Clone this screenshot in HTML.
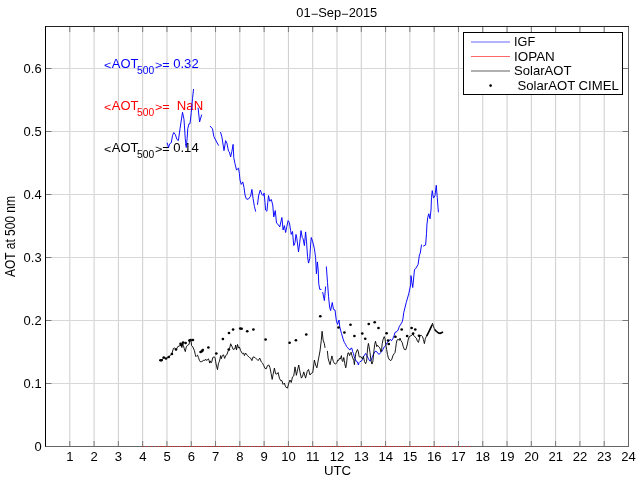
<!DOCTYPE html>
<html><head><meta charset="utf-8"><title>01-Sep-2015 AOT at 500 nm</title>
<style>html,body{margin:0;padding:0;background:#fff;overflow:hidden}svg{display:block;will-change:transform}text{font-family:"Liberation Sans",sans-serif;font-size:12px;fill:#000}</style>
</head><body>
<svg width="640" height="480" viewBox="0 0 640 480">
<rect x="0" y="0" width="640" height="480" fill="#fff"/>
<g stroke-width="1" fill="none">
<line x1="69.79" y1="26.5" x2="69.79" y2="446.5" stroke="#cdcdcd"/>
<line x1="94.08" y1="26.5" x2="94.08" y2="446.5" stroke="#cdcdcd"/>
<line x1="118.38" y1="26.5" x2="118.38" y2="446.5" stroke="#cdcdcd"/>
<line x1="142.67" y1="26.5" x2="142.67" y2="446.5" stroke="#cdcdcd"/>
<line x1="166.96" y1="26.5" x2="166.96" y2="446.5" stroke="#cdcdcd"/>
<line x1="191.25" y1="26.5" x2="191.25" y2="446.5" stroke="#cdcdcd"/>
<line x1="215.54" y1="26.5" x2="215.54" y2="446.5" stroke="#cdcdcd"/>
<line x1="239.83" y1="26.5" x2="239.83" y2="446.5" stroke="#cdcdcd"/>
<line x1="264.12" y1="26.5" x2="264.12" y2="446.5" stroke="#cdcdcd"/>
<line x1="288.42" y1="26.5" x2="288.42" y2="446.5" stroke="#cdcdcd"/>
<line x1="312.71" y1="26.5" x2="312.71" y2="446.5" stroke="#cdcdcd"/>
<line x1="337.00" y1="26.5" x2="337.00" y2="446.5" stroke="#cdcdcd"/>
<line x1="361.29" y1="26.5" x2="361.29" y2="446.5" stroke="#cdcdcd"/>
<line x1="385.58" y1="26.5" x2="385.58" y2="446.5" stroke="#cdcdcd"/>
<line x1="409.88" y1="26.5" x2="409.88" y2="446.5" stroke="#cdcdcd"/>
<line x1="434.17" y1="26.5" x2="434.17" y2="446.5" stroke="#cdcdcd"/>
<line x1="458.46" y1="26.5" x2="458.46" y2="446.5" stroke="#cdcdcd"/>
<line x1="482.75" y1="26.5" x2="482.75" y2="446.5" stroke="#cdcdcd"/>
<line x1="507.04" y1="26.5" x2="507.04" y2="446.5" stroke="#cdcdcd"/>
<line x1="531.33" y1="26.5" x2="531.33" y2="446.5" stroke="#cdcdcd"/>
<line x1="555.62" y1="26.5" x2="555.62" y2="446.5" stroke="#cdcdcd"/>
<line x1="579.92" y1="26.5" x2="579.92" y2="446.5" stroke="#cdcdcd"/>
<line x1="604.21" y1="26.5" x2="604.21" y2="446.5" stroke="#cdcdcd"/>
<line x1="45.5" y1="383.50" x2="628.5" y2="383.50" stroke="#d8d8d8"/>
<line x1="45.5" y1="320.50" x2="628.5" y2="320.50" stroke="#d8d8d8"/>
<line x1="45.5" y1="257.50" x2="628.5" y2="257.50" stroke="#d8d8d8"/>
<line x1="45.5" y1="194.50" x2="628.5" y2="194.50" stroke="#d8d8d8"/>
<line x1="45.5" y1="131.50" x2="628.5" y2="131.50" stroke="#d8d8d8"/>
<line x1="45.5" y1="68.50" x2="628.5" y2="68.50" stroke="#d8d8d8"/>
</g>
<g stroke="#7a7a7a" stroke-width="1" fill="none">
<line x1="69.79" y1="446.5" x2="69.79" y2="441.0"/>
<line x1="69.79" y1="26.5" x2="69.79" y2="32.0"/>
<line x1="94.08" y1="446.5" x2="94.08" y2="441.0"/>
<line x1="94.08" y1="26.5" x2="94.08" y2="32.0"/>
<line x1="118.38" y1="446.5" x2="118.38" y2="441.0"/>
<line x1="118.38" y1="26.5" x2="118.38" y2="32.0"/>
<line x1="142.67" y1="446.5" x2="142.67" y2="441.0"/>
<line x1="142.67" y1="26.5" x2="142.67" y2="32.0"/>
<line x1="166.96" y1="446.5" x2="166.96" y2="441.0"/>
<line x1="166.96" y1="26.5" x2="166.96" y2="32.0"/>
<line x1="191.25" y1="446.5" x2="191.25" y2="441.0"/>
<line x1="191.25" y1="26.5" x2="191.25" y2="32.0"/>
<line x1="215.54" y1="446.5" x2="215.54" y2="441.0"/>
<line x1="215.54" y1="26.5" x2="215.54" y2="32.0"/>
<line x1="239.83" y1="446.5" x2="239.83" y2="441.0"/>
<line x1="239.83" y1="26.5" x2="239.83" y2="32.0"/>
<line x1="264.12" y1="446.5" x2="264.12" y2="441.0"/>
<line x1="264.12" y1="26.5" x2="264.12" y2="32.0"/>
<line x1="288.42" y1="446.5" x2="288.42" y2="441.0"/>
<line x1="288.42" y1="26.5" x2="288.42" y2="32.0"/>
<line x1="312.71" y1="446.5" x2="312.71" y2="441.0"/>
<line x1="312.71" y1="26.5" x2="312.71" y2="32.0"/>
<line x1="337.00" y1="446.5" x2="337.00" y2="441.0"/>
<line x1="337.00" y1="26.5" x2="337.00" y2="32.0"/>
<line x1="361.29" y1="446.5" x2="361.29" y2="441.0"/>
<line x1="361.29" y1="26.5" x2="361.29" y2="32.0"/>
<line x1="385.58" y1="446.5" x2="385.58" y2="441.0"/>
<line x1="385.58" y1="26.5" x2="385.58" y2="32.0"/>
<line x1="409.88" y1="446.5" x2="409.88" y2="441.0"/>
<line x1="409.88" y1="26.5" x2="409.88" y2="32.0"/>
<line x1="434.17" y1="446.5" x2="434.17" y2="441.0"/>
<line x1="434.17" y1="26.5" x2="434.17" y2="32.0"/>
<line x1="458.46" y1="446.5" x2="458.46" y2="441.0"/>
<line x1="458.46" y1="26.5" x2="458.46" y2="32.0"/>
<line x1="482.75" y1="446.5" x2="482.75" y2="441.0"/>
<line x1="482.75" y1="26.5" x2="482.75" y2="32.0"/>
<line x1="507.04" y1="446.5" x2="507.04" y2="441.0"/>
<line x1="507.04" y1="26.5" x2="507.04" y2="32.0"/>
<line x1="531.33" y1="446.5" x2="531.33" y2="441.0"/>
<line x1="531.33" y1="26.5" x2="531.33" y2="32.0"/>
<line x1="555.62" y1="446.5" x2="555.62" y2="441.0"/>
<line x1="555.62" y1="26.5" x2="555.62" y2="32.0"/>
<line x1="579.92" y1="446.5" x2="579.92" y2="441.0"/>
<line x1="579.92" y1="26.5" x2="579.92" y2="32.0"/>
<line x1="604.21" y1="446.5" x2="604.21" y2="441.0"/>
<line x1="604.21" y1="26.5" x2="604.21" y2="32.0"/>
<line x1="45.5" y1="383.50" x2="51.5" y2="383.50"/>
<line x1="628.5" y1="383.50" x2="622.5" y2="383.50"/>
<line x1="45.5" y1="320.50" x2="51.5" y2="320.50"/>
<line x1="628.5" y1="320.50" x2="622.5" y2="320.50"/>
<line x1="45.5" y1="257.50" x2="51.5" y2="257.50"/>
<line x1="628.5" y1="257.50" x2="622.5" y2="257.50"/>
<line x1="45.5" y1="194.50" x2="51.5" y2="194.50"/>
<line x1="628.5" y1="194.50" x2="622.5" y2="194.50"/>
<line x1="45.5" y1="131.50" x2="51.5" y2="131.50"/>
<line x1="628.5" y1="131.50" x2="622.5" y2="131.50"/>
<line x1="45.5" y1="68.50" x2="51.5" y2="68.50"/>
<line x1="628.5" y1="68.50" x2="622.5" y2="68.50"/>
</g>
<g fill="none" stroke-width="1">
<line x1="45.0" y1="446.5" x2="629.0" y2="446.5" stroke="#666"/>
<line x1="628.5" y1="26.5" x2="628.5" y2="446.5" stroke="#666"/>
<line x1="45.0" y1="26.5" x2="629.0" y2="26.5" stroke="#222"/>
<line x1="45.5" y1="26.5" x2="45.5" y2="446.5" stroke="#000"/>
</g>
<text transform="translate(104.00 68.70) scale(1.040 0.85)" text-anchor="start" style="fill:#0000ff;">&lt;</text>
<text transform="translate(111.75 67.80) scale(1.080 1)" text-anchor="start" style="fill:#0000ff;">AOT</text>
<text transform="translate(137.10 73.80) scale(0.980 1)" text-anchor="start" style="fill:#0000ff;font-size:10.5px;">500</text>
<text transform="translate(154.90 68.70) scale(1.060 0.85)" text-anchor="start" style="fill:#0000ff;">&gt;=</text>
<text transform="translate(173.20 67.80) scale(1.090 1)" text-anchor="start" style="fill:#0000ff;">0.32</text>
<text transform="translate(104.00 110.50) scale(1.040 0.85)" text-anchor="start" style="fill:#ff0000;">&lt;</text>
<text transform="translate(111.75 109.60) scale(1.080 1)" text-anchor="start" style="fill:#ff0000;">AOT</text>
<text transform="translate(137.10 115.60) scale(0.980 1)" text-anchor="start" style="fill:#ff0000;font-size:10.5px;">500</text>
<text transform="translate(154.90 110.50) scale(1.060 0.85)" text-anchor="start" style="fill:#ff0000;">&gt;=</text>
<text transform="translate(176.80 109.60) scale(1.100 1)" text-anchor="start" style="fill:#ff0000;">NaN</text>
<text transform="translate(104.00 152.80) scale(1.040 0.85)" text-anchor="start" style="fill:#000000;">&lt;</text>
<text transform="translate(111.75 151.90) scale(1.080 1)" text-anchor="start" style="fill:#000000;">AOT</text>
<text transform="translate(137.10 157.90) scale(0.980 1)" text-anchor="start" style="fill:#000000;font-size:10.5px;">500</text>
<text transform="translate(154.90 152.80) scale(1.060 0.85)" text-anchor="start" style="fill:#000000;">&gt;=</text>
<text transform="translate(173.20 151.90) scale(1.090 1)" text-anchor="start" style="fill:#000000;">0.14</text>
<line x1="142.67" y1="446.5" x2="157.73" y2="446.5" stroke="#ff0000" stroke-width="1" stroke-dasharray="1 3" opacity="0.75"/>
<line x1="157.73" y1="446.5" x2="444.37" y2="446.5" stroke="#ff0000" stroke-width="1" stroke-dasharray="1.2 1.2" opacity="0.7"/>
<line x1="444.37" y1="446.5" x2="470.60" y2="446.5" stroke="#ff0000" stroke-width="1" stroke-dasharray="1 2.5" opacity="0.75"/>
<g fill="none" stroke="#0000ff" stroke-width="0.95" stroke-linejoin="round" stroke-linecap="round">
<path d="M167.25 143.10 L168.50 147.50 L169.75 143.75 L171.25 142.75 L172.50 135.60 L173.75 132.50 L175.25 134.40 L176.90 139.40 L178.40 140.60 L180.00 128.75 L182.50 112.25 L184.00 119.40 L185.25 138.75 L186.25 147.50 L187.10 138.75 L187.75 128.75 L189.00 123.75 L190.00 123.75 L191.25 112.50 L192.50 98.75 L193.50 89.40"/>
<path d="M198.10 108.00 L199.60 121.90 L201.60 115.00"/>
<path d="M210.25 126.25 L212.50 128.75 L213.75 136.25 L215.60 140.00 L218.50 145.25"/>
<path d="M220.60 132.50 L221.90 136.90 L224.00 150.60 L225.60 140.60 L226.90 143.10 L228.50 151.25 L229.40 151.90 L230.60 156.90 L231.90 151.25 L233.10 144.40 L233.75 157.50 L235.00 163.75 L236.50 170.00 L238.50 168.10 L239.40 173.75 L240.00 180.00 L241.25 184.40 L242.75 181.90 L244.00 187.50 L245.00 195.00 L246.25 198.75 L248.10 199.40 L250.60 196.25 L251.90 189.40 L253.10 198.75 L254.40 206.25 L255.60 211.25"/>
<path d="M257.50 204.40 L258.75 195.00 L260.25 190.00 L261.90 194.40 L263.10 195.60 L264.10 193.10 L265.00 202.50 L265.60 210.00 L266.90 211.25 L267.75 202.50 L268.50 195.60 L269.75 201.25 L271.25 199.40 L272.75 205.00 L273.75 216.90 L275.25 210.60 L276.50 223.10 L278.10 224.40 L279.75 226.90 L281.90 217.50 L283.10 230.00 L284.40 225.60 L285.60 232.50 L286.90 226.25 L288.10 220.60 L289.40 222.50 L290.60 230.60 L291.25 234.40 L292.50 231.50 L293.75 245.60 L295.00 242.50 L296.00 234.40 L296.90 238.75 L298.50 251.90 L299.75 242.50 L301.00 230.60 L302.25 237.50 L303.10 238.75 L304.40 245.60 L305.60 231.90 L306.50 241.25 L307.50 256.25 L308.50 263.10 L309.75 258.75 L310.60 245.00 L311.25 237.50 L312.75 241.90 L314.40 248.75 L315.60 257.50 L316.40 273.75 L317.40 261.90 L318.20 270.00 L318.75 283.75 L319.75 289.40 L321.00 289.40"/>
<path d="M322.75 292.50 L324.40 300.60 L325.60 286.90"/>
<path d="M326.35 266.90 L327.50 282.50 L328.50 296.25 L329.60 307.00 L330.60 310.60 L332.25 302.50 L333.50 309.40 L335.00 310.00 L336.25 320.00 L337.50 324.40 L339.00 320.00 L339.75 326.90 L341.50 333.50 L343.40 340.00 L344.40 342.50 L345.60 344.40 L346.60 346.60 L347.80 347.80 L349.10 349.40 L350.00 350.00 L350.90 348.20 L352.00 348.40 L352.50 351.25 L353.40 353.40 L354.10 356.25 L355.00 358.75 L355.90 360.90 L357.20 361.60 L357.80 363.40 L358.40 365.00 L359.10 362.50 L360.00 361.60 L361.25 361.25 L362.50 359.40 L363.75 356.25 L365.60 353.40 L366.90 355.60 L368.10 358.10 L369.70 360.90 L370.90 360.60 L372.20 357.50 L373.40 354.40 L374.70 351.90 L375.90 351.25 L377.20 352.20 L378.75 354.40 L380.00 353.40 L381.60 351.90 L382.80 349.70 L384.40 346.60 L385.60 345.30 L387.20 342.50 L388.75 341.25 L390.00 339.40 L391.60 340.60 L392.80 338.75 L394.10 335.60 L395.00 332.40 L396.90 331.60 L398.10 330.00 L399.40 326.25 L400.90 324.10 L402.20 321.90 L402.90 319.00 L403.75 312.50 L406.25 302.50 L408.75 293.75 L410.60 285.00 L411.00 275.60 L411.90 282.50 L412.75 287.50 L413.75 277.00 L414.50 269.40 L415.60 268.75 L418.10 264.40 L419.40 255.00 L420.25 253.10 L421.50 245.00"/>
<path d="M423.50 246.00 L425.60 245.00 L426.50 233.75 L426.90 225.00 L427.75 217.50 L428.75 213.75 L430.00 218.75 L431.00 210.00 L431.50 197.50 L432.25 190.60 L433.50 198.10 L435.00 195.60 L436.25 185.25 L437.25 197.50 L437.90 206.25 L438.40 211.90"/>
</g>
<g fill="none" stroke="#000" stroke-width="0.9" stroke-linejoin="round" stroke-linecap="round">
<path d="M159.40 360.25 L161.90 360.25 L163.75 357.50 L166.00 358.75 L168.75 356.90 L171.90 353.75 L173.40 348.40 L174.70 348.10 L176.25 349.60 L177.80 346.60 L179.70 345.90 L180.60 344.00 L181.90 347.60 L182.80 343.10 L183.40 345.60 L184.30 348.80 L185.30 351.60 L186.25 346.90 L187.50 345.30 L189.10 344.40 L189.60 340.90 L190.60 339.40 L191.20 342.00 L191.60 345.60 L192.80 346.90 L194.40 350.60 L195.30 354.70 L195.90 356.60 L196.90 355.60 L197.50 355.00 L198.40 357.50 L199.40 360.30 L200.30 361.75 L201.90 361.60 L203.10 360.60 L204.10 360.00 L204.70 360.60 L205.60 359.10 L206.40 360.30 L207.50 360.00 L208.40 358.75 L209.10 360.60 L209.70 363.10 L210.30 360.90 L211.25 362.80 L211.90 361.25 L212.80 357.50 L214.10 356.90 L215.00 357.50 L215.60 361.25 L216.25 365.00 L217.50 369.60 L218.40 363.75 L219.40 361.25 L220.00 358.75 L220.60 355.60 L221.25 358.75 L222.20 355.90 L223.40 354.70 L224.70 358.40 L225.60 355.60 L226.90 354.70 L227.80 351.90 L228.75 349.40 L230.00 347.00 L230.60 343.75 L231.90 346.25 L233.10 349.40 L235.00 348.75 L235.60 345.00 L236.50 350.00 L237.50 344.40 L238.50 348.10 L239.40 346.90 L240.60 350.60 L242.50 353.75 L243.75 353.10 L244.40 355.60 L245.60 353.10 L247.50 355.60 L249.40 357.50 L250.60 358.10 L251.90 360.60 L253.10 356.90 L255.00 357.50 L256.90 359.40 L258.10 360.60 L259.75 358.10 L261.25 361.90 L262.50 363.10 L263.75 365.60 L265.00 368.40 L266.25 368.75 L267.50 365.60 L268.90 365.00 L270.00 367.80 L271.10 373.50 L272.20 379.40 L273.10 374.40 L274.40 368.10 L275.60 373.75 L276.90 374.10 L278.10 372.50 L279.40 378.10 L280.60 380.60 L281.90 380.60 L283.10 384.40 L284.40 383.10 L285.60 386.90 L287.50 388.10 L288.75 383.10 L290.00 380.00 L291.25 382.50 L292.50 376.90 L293.75 376.00 L295.00 366.90 L296.40 375.30 L297.50 370.00 L298.75 365.00 L300.00 372.20 L301.40 378.10 L302.60 376.20 L303.75 371.90 L305.60 378.10 L307.25 371.25 L308.50 369.40 L310.00 375.00 L311.50 373.10 L312.75 372.50 L314.40 360.00 L315.60 365.00 L316.90 367.80 L318.30 360.00 L320.00 351.00 L321.25 340.60 L322.10 331.25 L323.10 340.00 L324.40 343.75 L325.00 347.50"/>
<path d="M327.40 351.25 L328.10 358.10 L329.10 361.90 L330.10 364.70 L330.90 360.60 L331.90 355.90 L332.60 358.75 L333.40 361.60 L334.40 363.40 L335.60 364.10 L336.90 362.50 L337.80 360.00 L338.75 360.30 L339.50 358.10 L340.30 359.10 L341.40 355.60 L342.20 360.60 L342.80 361.60 L343.75 357.50 L344.40 360.60 L345.00 365.00 L345.75 367.80 L346.60 363.10 L347.20 356.90 L348.00 352.80 L348.90 353.10 L349.60 355.60 L350.40 353.60 L351.10 352.20 L351.90 355.60 L352.80 358.10 L353.75 360.60 L354.40 364.70 L355.00 358.75 L355.90 353.10 L357.50 349.40 L358.40 351.90 L359.10 356.60 L360.00 357.20 L360.90 356.60 L362.20 358.40 L362.50 359.10 L363.40 356.25 L364.40 361.25 L365.60 363.75 L366.60 361.25 L367.20 353.10 L367.80 346.90 L368.40 343.40 L369.10 346.90 L370.00 352.50 L370.90 360.00 L371.90 364.10 L372.80 361.90 L373.40 356.25 L374.10 349.40 L374.70 344.40 L375.50 341.25 L376.10 343.75 L376.75 346.60 L377.50 345.30 L378.75 346.90 L380.00 348.10 L380.90 351.90 L381.60 350.00 L382.20 343.75 L383.10 339.40 L384.25 336.60 L385.00 338.75 L385.75 344.40 L386.60 349.40 L387.50 354.40 L388.40 358.10 L389.70 360.00 L390.90 360.60 L391.90 359.10 L392.80 355.90 L394.10 353.75 L395.00 352.50 L395.60 348.75 L396.25 343.75 L396.90 340.30 L398.10 339.40 L399.40 340.30 L400.00 338.10 L400.90 340.60 L402.20 342.50 L403.10 346.25 L404.40 349.60 L405.90 349.60 L407.20 345.00 L408.10 340.00 L409.10 336.90 L410.60 335.90 L412.20 335.00 L413.10 333.20 L413.75 335.60 L415.00 336.90 L416.25 338.10 L417.50 341.25 L418.40 342.40 L419.40 338.75 L420.00 335.60 L421.25 335.30 L422.50 336.60 L423.40 339.40 L424.40 343.60 L425.30 338.75 L426.25 336.60 L426.90 335.60 L428.75 332.00 L430.60 328.10 L431.90 325.30 L432.50 323.20 L433.40 326.25 L434.40 328.75 L436.25 331.25 L438.10 332.75 L440.00 333.50 L442.50 332.25"/>
</g>
<g fill="none" stroke="#000" stroke-width="1.6" stroke-linejoin="round" stroke-linecap="round">
<path d="M426.90 335.60 L428.75 332.00 L430.60 328.10 L431.80 325.50"/>
<path d="M435.00 330.00 L436.25 331.25 L438.10 332.75 L440.00 333.50 L442.50 332.25"/>
</g>
<g fill="#000">
<ellipse cx="160.60" cy="360.25" rx="1.35" ry="1.25"/>
<ellipse cx="161.50" cy="360.25" rx="1.35" ry="1.25"/>
<ellipse cx="163.75" cy="357.50" rx="1.35" ry="1.25"/>
<ellipse cx="166.00" cy="358.50" rx="1.35" ry="1.25"/>
<ellipse cx="168.75" cy="356.90" rx="1.35" ry="1.25"/>
<ellipse cx="171.90" cy="354.00" rx="1.35" ry="1.25"/>
<ellipse cx="176.00" cy="349.40" rx="1.35" ry="1.25"/>
<ellipse cx="180.60" cy="343.75" rx="1.35" ry="1.25"/>
<ellipse cx="181.25" cy="345.00" rx="1.35" ry="1.25"/>
<ellipse cx="183.10" cy="342.50" rx="1.35" ry="1.25"/>
<ellipse cx="185.60" cy="342.90" rx="1.35" ry="1.25"/>
<ellipse cx="189.40" cy="340.40" rx="1.35" ry="1.25"/>
<ellipse cx="190.60" cy="340.00" rx="1.35" ry="1.25"/>
<ellipse cx="192.90" cy="340.00" rx="1.35" ry="1.25"/>
<ellipse cx="200.60" cy="351.90" rx="1.35" ry="1.25"/>
<ellipse cx="201.90" cy="351.25" rx="1.35" ry="1.25"/>
<ellipse cx="202.75" cy="350.00" rx="1.35" ry="1.25"/>
<ellipse cx="208.40" cy="347.50" rx="1.35" ry="1.25"/>
<ellipse cx="216.30" cy="353.50" rx="1.35" ry="1.25"/>
<ellipse cx="222.90" cy="339.00" rx="1.35" ry="1.25"/>
<ellipse cx="229.00" cy="333.10" rx="1.35" ry="1.25"/>
<ellipse cx="233.10" cy="329.40" rx="1.35" ry="1.25"/>
<ellipse cx="240.25" cy="328.50" rx="1.35" ry="1.25"/>
<ellipse cx="241.60" cy="328.75" rx="1.35" ry="1.25"/>
<ellipse cx="247.25" cy="331.25" rx="1.35" ry="1.25"/>
<ellipse cx="253.40" cy="329.60" rx="1.35" ry="1.25"/>
<ellipse cx="265.60" cy="339.60" rx="1.35" ry="1.25"/>
<ellipse cx="289.60" cy="342.75" rx="1.35" ry="1.25"/>
<ellipse cx="295.90" cy="340.25" rx="1.35" ry="1.25"/>
<ellipse cx="306.25" cy="334.60" rx="1.35" ry="1.25"/>
<ellipse cx="320.30" cy="316.30" rx="1.35" ry="1.25"/>
<ellipse cx="338.50" cy="327.60" rx="1.35" ry="1.25"/>
<ellipse cx="344.40" cy="332.60" rx="1.35" ry="1.25"/>
<ellipse cx="350.50" cy="324.75" rx="1.35" ry="1.25"/>
<ellipse cx="354.40" cy="336.10" rx="1.35" ry="1.25"/>
<ellipse cx="362.25" cy="333.40" rx="1.35" ry="1.25"/>
<ellipse cx="365.25" cy="338.75" rx="1.35" ry="1.25"/>
<ellipse cx="368.75" cy="323.90" rx="1.35" ry="1.25"/>
<ellipse cx="374.70" cy="322.20" rx="1.35" ry="1.25"/>
<ellipse cx="378.50" cy="328.10" rx="1.35" ry="1.25"/>
<ellipse cx="386.60" cy="333.30" rx="1.35" ry="1.25"/>
<ellipse cx="388.10" cy="340.60" rx="1.35" ry="1.25"/>
<ellipse cx="388.75" cy="343.90" rx="1.35" ry="1.25"/>
<ellipse cx="395.40" cy="336.80" rx="1.35" ry="1.25"/>
<ellipse cx="401.70" cy="329.50" rx="1.35" ry="1.25"/>
<ellipse cx="407.10" cy="336.10" rx="1.35" ry="1.25"/>
<ellipse cx="411.60" cy="328.10" rx="1.35" ry="1.25"/>
<ellipse cx="415.25" cy="329.60" rx="1.35" ry="1.25"/>
<ellipse cx="413.10" cy="333.60" rx="1.35" ry="1.25"/>
<ellipse cx="419.00" cy="335.70" rx="1.35" ry="1.25"/>
<ellipse cx="228.80" cy="349.40" rx="1.35" ry="1.25"/>
</g>
<rect x="463.5" y="32.5" width="159" height="62" fill="#fff" stroke="#000" stroke-width="1"/>
<rect x="471" y="41" width="39" height="2" fill="#b2b2ff"/>
<rect x="471" y="56" width="39" height="1" fill="#ff6868"/>
<rect x="471" y="70" width="39" height="2" fill="#b0b0b0"/>
<circle cx="490.6" cy="85.6" r="1.3" fill="#000"/>
<text transform="translate(514.00 45.80) scale(1.060 1)" text-anchor="start">IGF</text>
<text transform="translate(514.00 60.60) scale(1.120 1)" text-anchor="start">IOPAN</text>
<text transform="translate(514.00 75.00) scale(1.090 1)" text-anchor="start">SolarAOT</text>
<text transform="translate(517.50 89.50) scale(1.095 1)" text-anchor="start">SolarAOT CIMEL</text>
<text transform="translate(336.80 17.00) scale(1.075 1)" text-anchor="middle">01<tspan dy="1.2">−</tspan><tspan dy="-1.2">Sep</tspan><tspan dy="1.2">−</tspan><tspan dy="-1.2">2015</tspan></text>
<text transform="translate(69.89 461.00) scale(1.090 1)" text-anchor="middle">1</text>
<text transform="translate(94.18 461.00) scale(1.090 1)" text-anchor="middle">2</text>
<text transform="translate(118.47 461.00) scale(1.090 1)" text-anchor="middle">3</text>
<text transform="translate(142.77 461.00) scale(1.090 1)" text-anchor="middle">4</text>
<text transform="translate(167.06 461.00) scale(1.090 1)" text-anchor="middle">5</text>
<text transform="translate(191.35 461.00) scale(1.090 1)" text-anchor="middle">6</text>
<text transform="translate(215.64 461.00) scale(1.090 1)" text-anchor="middle">7</text>
<text transform="translate(239.93 461.00) scale(1.090 1)" text-anchor="middle">8</text>
<text transform="translate(264.23 461.00) scale(1.090 1)" text-anchor="middle">9</text>
<text transform="translate(288.52 461.00) scale(1.090 1)" text-anchor="middle">10</text>
<text transform="translate(312.81 461.00) scale(1.090 1)" text-anchor="middle">11</text>
<text transform="translate(337.10 461.00) scale(1.090 1)" text-anchor="middle">12</text>
<text transform="translate(361.39 461.00) scale(1.090 1)" text-anchor="middle">13</text>
<text transform="translate(385.68 461.00) scale(1.090 1)" text-anchor="middle">14</text>
<text transform="translate(409.98 461.00) scale(1.090 1)" text-anchor="middle">15</text>
<text transform="translate(434.27 461.00) scale(1.090 1)" text-anchor="middle">16</text>
<text transform="translate(458.56 461.00) scale(1.090 1)" text-anchor="middle">17</text>
<text transform="translate(482.85 461.00) scale(1.090 1)" text-anchor="middle">18</text>
<text transform="translate(507.14 461.00) scale(1.090 1)" text-anchor="middle">19</text>
<text transform="translate(531.43 461.00) scale(1.090 1)" text-anchor="middle">20</text>
<text transform="translate(555.73 461.00) scale(1.090 1)" text-anchor="middle">21</text>
<text transform="translate(580.02 461.00) scale(1.090 1)" text-anchor="middle">22</text>
<text transform="translate(604.31 461.00) scale(1.090 1)" text-anchor="middle">23</text>
<text transform="translate(628.60 461.00) scale(1.090 1)" text-anchor="middle">24</text>
<text transform="translate(41.60 450.80) scale(1.080 1)" text-anchor="end">0</text>
<text transform="translate(41.60 387.80) scale(1.080 1)" text-anchor="end">0.1</text>
<text transform="translate(41.60 324.80) scale(1.080 1)" text-anchor="end">0.2</text>
<text transform="translate(41.60 261.80) scale(1.080 1)" text-anchor="end">0.3</text>
<text transform="translate(41.60 198.80) scale(1.080 1)" text-anchor="end">0.4</text>
<text transform="translate(41.60 135.80) scale(1.080 1)" text-anchor="end">0.5</text>
<text transform="translate(41.60 72.80) scale(1.080 1)" text-anchor="end">0.6</text>
<text transform="translate(337.50 475.20) scale(1.100 1)" text-anchor="middle">UTC</text>
<text transform="translate(15.1 236.5) scale(1.21 1) rotate(-90)" text-anchor="middle">AOT at 500 nm</text>
</svg>
</body></html>
